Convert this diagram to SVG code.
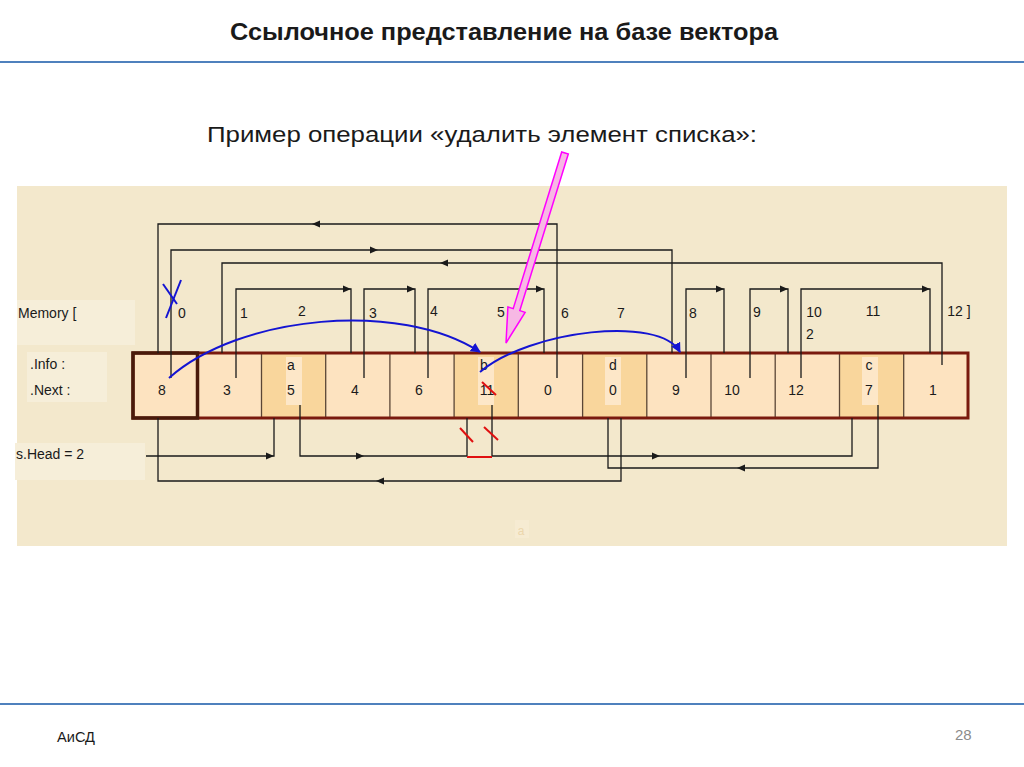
<svg xmlns="http://www.w3.org/2000/svg" width="1024" height="767" viewBox="0 0 1024 767">
<defs>
<style>
.t{font-family:"Liberation Sans",Arial,sans-serif;fill:#1a1a1a}
.lbl{font-size:14px}
.cn{font-size:14px;text-anchor:middle}
.ln{fill:none;stroke:#1a1a1a;stroke-width:1.3}
.bl{fill:none;stroke:#1414d2;stroke-width:2}
.rd{fill:none;stroke:#e01010;stroke-width:2}
.cell{fill:#fde3c0}
.shade{fill:#f9d69c}
.strip{fill:#fde7c8}
.div{stroke:#5a4636;stroke-width:1.3}
.box{fill:#f6eed9}
</style>
<path id="ah" d="M0,0 L-8,-3.5 L-8,3.5 Z" fill="#1a1a1a"/>
<marker id="bah" viewBox="0 0 10 10" refX="9" refY="5" markerWidth="5" markerHeight="5" orient="auto" markerUnits="strokeWidth">
<path d="M0,0 L10,5 L0,10 Z" fill="#1414d2"/>
</marker>
</defs>
<rect width="1024" height="767" fill="#ffffff"/>
<g id="title">
<text class="t" x="504" y="40" font-size="24" font-weight="bold" text-anchor="middle" textLength="548" lengthAdjust="spacingAndGlyphs">Ссылочное представление на базе вектора</text>
<line x1="0" y1="62" x2="1024" y2="62" stroke="#4f81bd" stroke-width="2"/>
</g>
<g id="subtitle">
<text class="t" x="207" y="142" font-size="22" textLength="550" lengthAdjust="spacingAndGlyphs">Пример операции «удалить элемент списка»:</text>
</g>
<g id="panel">
<rect x="17" y="186" width="990" height="360" fill="#f3e8cc"/>
<rect x="17" y="300" width="118" height="45" class="box"/>
<rect x="27" y="352" width="80" height="50" class="box"/>
<rect x="15" y="443" width="130" height="37" class="box"/>
<rect x="515" y="520" width="14" height="18" fill="#f6ebd2"/>
<text class="t" x="521" y="535" font-size="12" style="fill:#ecd6ac" text-anchor="middle">a</text>
</g>
<g id="labels">
<text class="t lbl" x="18" y="318">Memory [</text>
<text class="t lbl" x="30" y="369">.Info :</text>
<text class="t lbl" x="30" y="395">.Next :</text>
<text class="t lbl" x="16" y="459">s.Head = 2</text>
<text class="t cn" x="182" y="318">0</text>
<text class="t cn" x="244" y="318">1</text>
<text class="t cn" x="302" y="316">2</text>
<text class="t cn" x="373" y="318">3</text>
<text class="t cn" x="434" y="316">4</text>
<text class="t cn" x="501" y="317">5</text>
<text class="t cn" x="565" y="318">6</text>
<text class="t cn" x="621" y="318">7</text>
<text class="t cn" x="693" y="318">8</text>
<text class="t cn" x="757" y="317">9</text>
<text class="t cn" x="814" y="317">10</text>
<text class="t cn" x="810" y="339">2</text>
<text class="t cn" x="873" y="316">11</text>
<text class="t cn" x="959" y="316">12 ]</text>
</g>
<g id="memory">
<rect x="133" y="353" width="835" height="65" class="cell"/>
<rect x="261.5" y="354" width="64.2" height="63" class="shade"/>
<rect x="454" y="354" width="64.2" height="63" class="shade"/>
<rect x="582.6" y="354" width="64.2" height="63" class="shade"/>
<rect x="839.5" y="354" width="64.2" height="63" class="shade"/>
<rect x="286" y="357" width="16" height="48" class="strip"/>
<rect x="478" y="357" width="16" height="48" class="strip"/>
<rect x="605" y="357" width="16" height="48" class="strip"/>
<rect x="862" y="357" width="16" height="48" class="strip"/>
<g class="div">
<line x1="261.5" y1="353" x2="261.5" y2="418"/>
<line x1="325.7" y1="353" x2="325.7" y2="418"/>
<line x1="389.9" y1="353" x2="389.9" y2="418"/>
<line x1="454.1" y1="353" x2="454.1" y2="418"/>
<line x1="518.3" y1="353" x2="518.3" y2="418"/>
<line x1="582.6" y1="353" x2="582.6" y2="418"/>
<line x1="646.8" y1="353" x2="646.8" y2="418"/>
<line x1="711" y1="353" x2="711" y2="418"/>
<line x1="775.2" y1="353" x2="775.2" y2="418"/>
<line x1="839.5" y1="353" x2="839.5" y2="418"/>
<line x1="903.7" y1="353" x2="903.7" y2="418"/>
</g>
<rect x="133" y="353" width="835" height="65" fill="none" stroke="#7a1a0e" stroke-width="3"/>
<rect x="133" y="353" width="64.5" height="65" fill="none" stroke="#4a1a0a" stroke-width="3.5"/>
<text class="t cn" x="291" y="370">a</text>
<text class="t cn" x="484" y="370">b</text>
<text class="t cn" x="613" y="370">d</text>
<text class="t cn" x="869" y="370">c</text>
<text class="t cn" x="162" y="395">8</text>
<text class="t cn" x="227" y="395">3</text>
<text class="t cn" x="291" y="395">5</text>
<text class="t cn" x="355" y="395">4</text>
<text class="t cn" x="419" y="395">6</text>
<text class="t cn" x="487" y="395">11</text>
<text class="t cn" x="548" y="395">0</text>
<text class="t cn" x="613" y="395">0</text>
<text class="t cn" x="676" y="395">9</text>
<text class="t cn" x="732" y="395">10</text>
<text class="t cn" x="796" y="395">12</text>
<text class="t cn" x="869" y="395">7</text>
<text class="t cn" x="933" y="395">1</text>
</g>
<g id="connectors">
<path class="ln" d="M557,378 V224 H158 V353"/>
<path class="ln" d="M171,378 V250 H672 V353"/>
<path class="ln" d="M942,365 V263 H222 V353"/>
<path class="ln" d="M236,378 V289 H351 V353"/>
<path class="ln" d="M364,378 V289 H415 V353"/>
<path class="ln" d="M428,378 V289 H544 V353"/>
<path class="ln" d="M686,378 V289 H724 V353"/>
<path class="ln" d="M750,378 V289 H788 V353"/>
<path class="ln" d="M801,378 V289 H930 V353"/>
<path class="ln" d="M146,456 H274 V418"/>
<path class="ln" d="M300,405 V456 H467 V418"/>
<path class="ln" d="M492,405 V456 H852 V418"/>
<path class="ln" d="M878,405 V468 H608 V418"/>
<path class="ln" d="M621,418 V481 H158 V418"/>
<use href="#ah" transform="translate(312,224) rotate(180)"/>
<use href="#ah" transform="translate(378,250)"/>
<use href="#ah" transform="translate(440,263) rotate(180)"/>
<use href="#ah" transform="translate(351,289)"/>
<use href="#ah" transform="translate(415,289)"/>
<use href="#ah" transform="translate(544,289)"/>
<use href="#ah" transform="translate(724,289)"/>
<use href="#ah" transform="translate(788,289)"/>
<use href="#ah" transform="translate(930,289)"/>
<use href="#ah" transform="translate(274,456)"/>
<use href="#ah" transform="translate(364,456)"/>
<use href="#ah" transform="translate(660,456)"/>
<use href="#ah" transform="translate(737,468) rotate(180)"/>
<use href="#ah" transform="translate(376,481) rotate(180)"/>
<path class="bl" d="M169,378 C240,315 400,300 480,352" marker-end="url(#bah)"/>
<path class="bl" d="M480,372 C530,330 660,315 680,352" marker-end="url(#bah)"/>
<line class="bl" x1="163" y1="284" x2="177" y2="304"/>
<line class="bl" x1="181" y1="280" x2="166" y2="318"/>
<line class="rd" x1="467" y1="457" x2="492" y2="457"/>
<line class="rd" x1="460" y1="428" x2="473" y2="442"/>
<line class="rd" x1="484" y1="427" x2="498" y2="440"/>
<line class="rd" x1="482" y1="382" x2="496" y2="395"/>
<polygon points="568.3,154 519.8,310.6 525.1,312.3 506,343 507.9,306.9 513.2,308.6 561.7,152" fill="#f7b8e4" stroke="#ff00ff" stroke-width="1.5"/>
</g>
<g id="footer">
<line x1="0" y1="704" x2="1024" y2="704" stroke="#4f81bd" stroke-width="2"/>
<text class="t" x="57" y="742" font-size="14" textLength="38" lengthAdjust="spacingAndGlyphs">АиСД</text>
<text class="t" x="955" y="740" font-size="15" style="fill:#8c8c8c">28</text>
</g>
</svg>
